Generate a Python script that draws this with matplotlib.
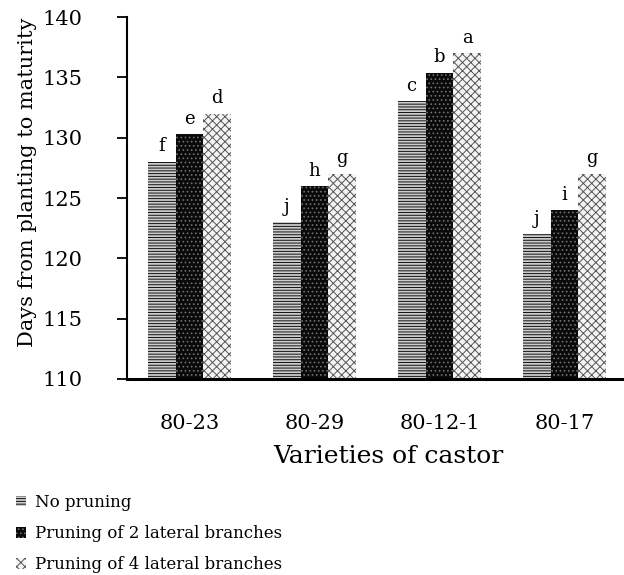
import matplotlib
matplotlib.use("Agg")
import matplotlib.pyplot as plt
import numpy as np
from matplotlib.patches import Patch

varieties = ["80-23", "80-29", "80-12-1", "80-17"]
series_names = ["No pruning", "Pruning of 2 lateral branches", "Pruning of 4 lateral branches"]
no_pruning = [128.0, 123.0, 133.0, 122.0]
prune_2 = [130.3, 126.0, 135.4, 124.0]
prune_4 = [132.0, 127.0, 137.0, 127.0]
letters_no = ["f", "j", "c", "j"]
letters_2 = ["e", "h", "b", "i"]
letters_4 = ["d", "g", "a", "g"]
yticks = [110, 115, 120, 125, 130, 135, 140]

plt.rcParams['font.family'] = ['DejaVu Serif']
plt.rcParams['hatch.linewidth'] = 0.7

fig = plt.figure(figsize=(6.24, 5.75), dpi=100)
ax = fig.add_axes([0.2035, 0.3409, 0.7965, 0.6295])

x = np.arange(len(varieties))
w = 0.223
styles = [
    dict(facecolor="#cccccc", edgecolor="#111111", hatch="------"),
    dict(facecolor="#0a0a0a", edgecolor="#707070", hatch="...."),
    dict(facecolor="#f4f4f4", edgecolor="#555555", hatch="xxxx"),
]
data = [no_pruning, prune_2, prune_4]
letters = [letters_no, letters_2, letters_4]
for i, (vals, st, lab) in enumerate(zip(data, styles, letters)):
    xs = x + (i - 1) * w
    ax.bar(xs, np.array(vals) - 110, bottom=110, width=w, linewidth=0, **st)
    for xx, v, l in zip(xs, vals, lab):
        ax.annotate(l, (xx, v), xytext=(0, 7.5), textcoords="offset points",
                    ha="center", va="baseline", fontsize=13)

ax.set_ylim(110, 140)
ax.set_xlim(-0.5, 3.476)
ax.set_yticks(yticks)
ax.set_xticks(x)
ax.set_xticklabels(varieties)
ax.spines['top'].set_visible(False)
ax.spines['right'].set_visible(False)
ax.spines['left'].set_linewidth(1.5)
ax.spines['bottom'].set_linewidth(2.2)
ax.tick_params(axis='y', length=7, width=1.3, labelsize=15, pad=25)
ax.tick_params(axis='x', length=0, labelsize=15, pad=25)
ax.set_ylabel("Days from planting to maturity", fontsize=15, va="center")
ax.yaxis.set_label_coords(-0.201, 0.544)
ax.set_xlabel("Varieties of castor", fontsize=18, va="center")
ax.xaxis.set_label_coords(0.525, -0.2155)

handles = [Patch(linewidth=0, **st) for st in styles]
fig.legend(handles, series_names, loc="upper left", bbox_to_anchor=(0.026, 0.141),
           frameon=False, fontsize=12, handlelength=0.6, handleheight=0.6,
           handletextpad=0.5, labelspacing=0.85, borderaxespad=0, borderpad=0)

fig.savefig("out.png", dpi=100)
